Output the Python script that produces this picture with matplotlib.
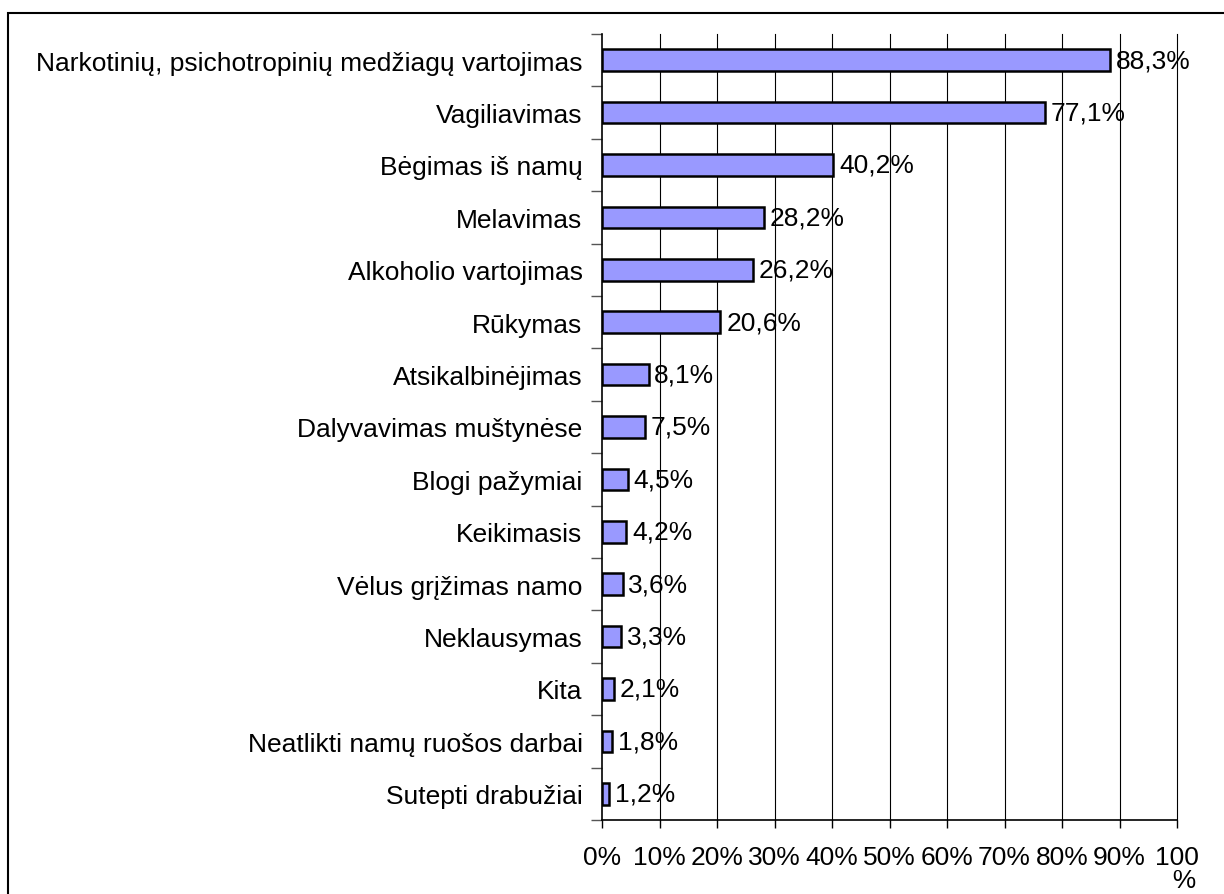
import matplotlib.pyplot as plt
from matplotlib.patches import Rectangle

plt.rcParams['font.family'] = ['Liberation Sans', 'DejaVu Sans']

categories = ['Narkotinių, psichotropinių medžiagų vartojimas', 'Vagiliavimas',
              'Bėgimas iš namų', 'Melavimas', 'Alkoholio vartojimas', 'Rūkymas',
              'Atsikalbinėjimas', 'Dalyvavimas muštynėse', 'Blogi pažymiai',
              'Keikimasis', 'Vėlus grįžimas namo', 'Neklausymas', 'Kita',
              'Neatlikti namų ruošos darbai', 'Sutepti drabužiai']
values = [88.3, 77.1, 40.2, 28.2, 26.2, 20.6, 8.1, 7.5, 4.5, 4.2, 3.6, 3.3, 2.1, 1.8, 1.2]
xticks = [0, 10, 20, 30, 40, 50, 60, 70, 80, 90, 100]
xlabels = ['0%', '10%', '20%', '30%', '40%', '50%', '60%', '70%', '80%', '90%', '100\n  %']

W, H = 1224, 895
fig = plt.figure(figsize=(W / 100, H / 100), dpi=100)
ax = fig.add_axes([602 / W, 1 - 821 / H, (1177 - 602) / W, (821 - 35) / H])

# outer frame, cut off at right and bottom like the source
fig.patches.append(Rectangle((8 / W, -0.05), 1.2, 1 - 14 / H + 0.05, transform=fig.transFigure,
                             fill=False, edgecolor='black', linewidth=1.5))

n = len(categories)
ypos = list(range(n))[::-1]
ax.barh(ypos, values, height=0.41, color='#9999FF', edgecolor='black', linewidth=1.8, zorder=3)

for y, v in zip(ypos, values):
    ax.text(v + 1.0, y, f'{v:.1f}%'.replace('.', ','), va='center', ha='left', fontsize=19, zorder=4)

ax.set_xlim(0, 100)
ax.set_ylim(-0.5, n - 0.5)
ax.set_xticks(xticks)
ax.set_xticklabels(xlabels, fontsize=19, va='top', linespacing=0.95)
ax.set_yticks(ypos)
ax.set_yticklabels(categories, fontsize=19)
ax.tick_params(axis='y', length=0, pad=14)
ax.set_yticks([i - 0.5 for i in range(n + 1)], minor=True)
ax.tick_params(axis='y', which='minor', length=8, width=1, color='#555555')
ax.tick_params(axis='x', length=6, width=1, pad=12)
for x in xticks[1:]:
    ax.axvline(x, color='black', linewidth=0.8, zorder=0, clip_on=False)

for side in ['top', 'right']:
    ax.spines[side].set_visible(False)
ax.spines['left'].set_linewidth(1.2)
ax.spines['bottom'].set_linewidth(1.2)

fig.savefig('out.png', dpi=100)
